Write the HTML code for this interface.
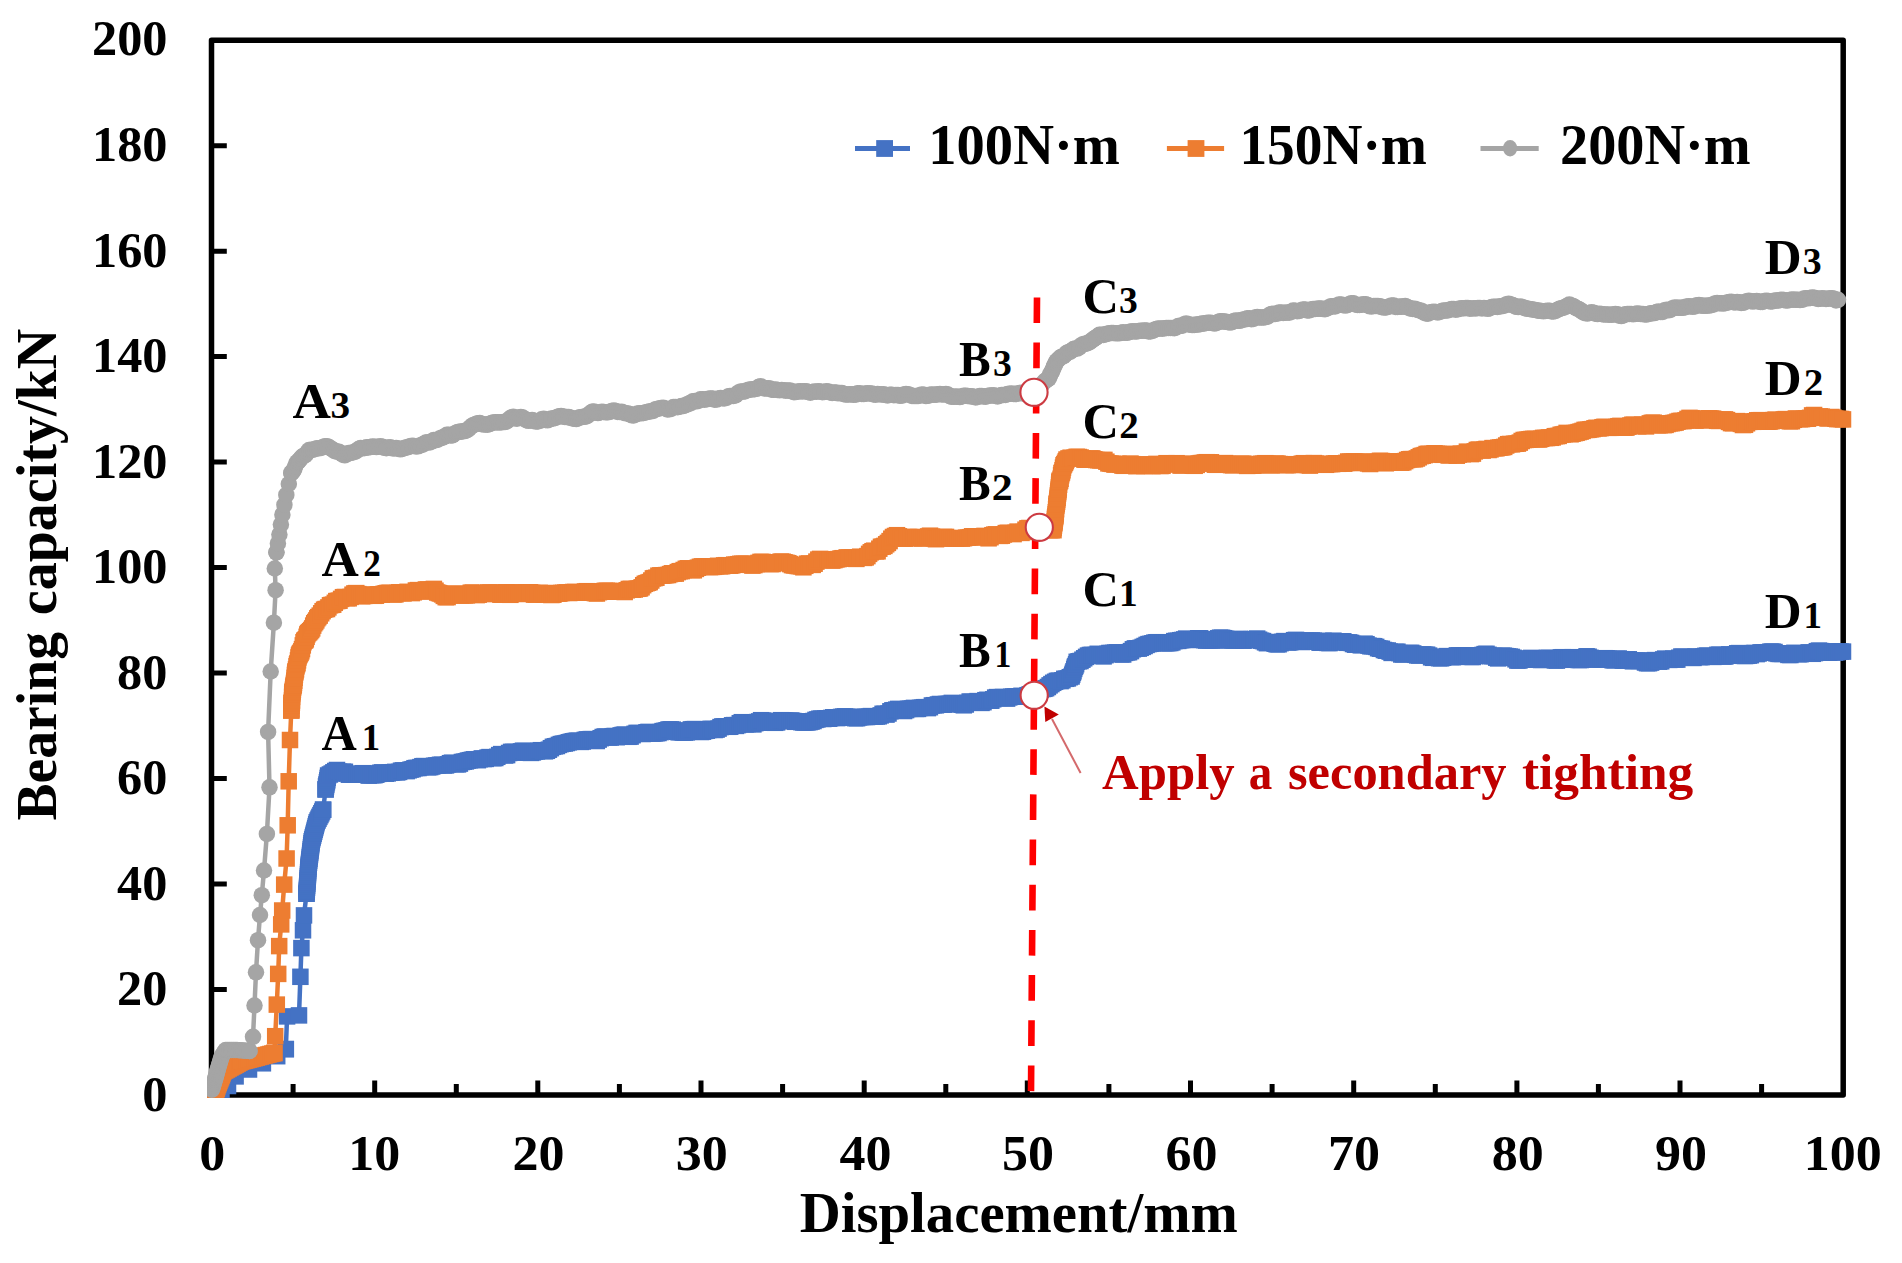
<!DOCTYPE html><html><head><meta charset="utf-8"><title>Bearing capacity vs displacement</title>
<style>html,body{margin:0;padding:0;background:#fff}svg{display:block}text{font-family:"Liberation Serif","Times New Roman",serif;font-weight:bold}</style></head><body>
<svg width="1902" height="1263" viewBox="0 0 1902 1263">
<rect width="1902" height="1263" fill="#fff"/>
<rect x="211.5" y="40.2" width="1631.7" height="1054.8" fill="none" stroke="#000" stroke-width="5.5" stroke-linejoin="round"/>
<path d="M211.5,989.5H226.8M211.5,884.0H226.8M211.5,778.6H226.8M211.5,673.1H226.8M211.5,567.6H226.8M211.5,462.1H226.8M211.5,356.6H226.8M211.5,251.2H226.8M211.5,145.7H226.8M293.1,1095.0V1084M374.7,1095.0V1080.5M456.3,1095.0V1084M537.8,1095.0V1080.5M619.4,1095.0V1084M701.0,1095.0V1080.5M782.6,1095.0V1084M864.2,1095.0V1080.5M945.8,1095.0V1084M1027.3,1095.0V1080.5M1108.9,1095.0V1084M1190.5,1095.0V1080.5M1272.1,1095.0V1084M1353.7,1095.0V1080.5M1435.3,1095.0V1084M1516.9,1095.0V1080.5M1598.4,1095.0V1084M1680.0,1095.0V1080.5M1761.6,1095.0V1084" stroke="#000" stroke-width="5" fill="none"/>
<text x="142.3" y="1110.7" font-size="50" fill="#000" textLength="25.2" lengthAdjust="spacingAndGlyphs">0</text>
<text x="117.1" y="1005.2" font-size="50" fill="#000" textLength="50.3" lengthAdjust="spacingAndGlyphs">20</text>
<text x="117.1" y="899.7" font-size="50" fill="#000" textLength="50.3" lengthAdjust="spacingAndGlyphs">40</text>
<text x="117.1" y="794.3" font-size="50" fill="#000" textLength="50.3" lengthAdjust="spacingAndGlyphs">60</text>
<text x="117.1" y="688.8" font-size="50" fill="#000" textLength="50.3" lengthAdjust="spacingAndGlyphs">80</text>
<text x="92.0" y="583.3" font-size="50" fill="#000" textLength="75.5" lengthAdjust="spacingAndGlyphs">100</text>
<text x="92.0" y="477.8" font-size="50" fill="#000" textLength="75.5" lengthAdjust="spacingAndGlyphs">120</text>
<text x="92.0" y="372.3" font-size="50" fill="#000" textLength="75.5" lengthAdjust="spacingAndGlyphs">140</text>
<text x="92.0" y="266.9" font-size="50" fill="#000" textLength="75.5" lengthAdjust="spacingAndGlyphs">160</text>
<text x="92.0" y="161.4" font-size="50" fill="#000" textLength="75.5" lengthAdjust="spacingAndGlyphs">180</text>
<text x="92.0" y="55.2" font-size="50" fill="#000" textLength="75.5" lengthAdjust="spacingAndGlyphs">200</text>
<text x="199.3" y="1169.7" font-size="50" fill="#000" textLength="26.0" lengthAdjust="spacingAndGlyphs">0</text>
<text x="348.3" y="1169.7" font-size="50" fill="#000" textLength="52.0" lengthAdjust="spacingAndGlyphs">10</text>
<text x="512.5" y="1169.7" font-size="50" fill="#000" textLength="52.0" lengthAdjust="spacingAndGlyphs">20</text>
<text x="675.8" y="1169.7" font-size="50" fill="#000" textLength="52.0" lengthAdjust="spacingAndGlyphs">30</text>
<text x="839.6" y="1169.7" font-size="50" fill="#000" textLength="52.0" lengthAdjust="spacingAndGlyphs">40</text>
<text x="1002.0" y="1169.7" font-size="50" fill="#000" textLength="52.0" lengthAdjust="spacingAndGlyphs">50</text>
<text x="1165.5" y="1169.7" font-size="50" fill="#000" textLength="52.0" lengthAdjust="spacingAndGlyphs">60</text>
<text x="1328.0" y="1169.7" font-size="50" fill="#000" textLength="52.0" lengthAdjust="spacingAndGlyphs">70</text>
<text x="1491.8" y="1169.7" font-size="50" fill="#000" textLength="52.0" lengthAdjust="spacingAndGlyphs">80</text>
<text x="1655.1" y="1169.7" font-size="50" fill="#000" textLength="52.0" lengthAdjust="spacingAndGlyphs">90</text>
<text x="1803.8" y="1169.7" font-size="50" fill="#000" textLength="78.0" lengthAdjust="spacingAndGlyphs">100</text>
<text x="799.7" y="1232.0" font-size="56" fill="#000" textLength="438.1" lengthAdjust="spacingAndGlyphs">Displacement/mm</text>
<text transform="translate(56.3,820.5) rotate(-90)" font-size="56" textLength="188.5" lengthAdjust="spacingAndGlyphs">Bearing</text>
<text transform="translate(56.3,615.2) rotate(-90)" font-size="56" textLength="286.3" lengthAdjust="spacingAndGlyphs">capacity/kN</text>
<defs>
<marker id="mb" markerUnits="userSpaceOnUse" markerWidth="16.5" markerHeight="16.5" refX="8.25" refY="8.25" overflow="visible"><rect width="16.5" height="16.5" fill="#4472C4"/></marker>
<marker id="mo" markerUnits="userSpaceOnUse" markerWidth="16.5" markerHeight="16.5" refX="8.25" refY="8.25" overflow="visible"><rect width="16.5" height="16.5" fill="#ED7D31"/></marker>
<marker id="mg" markerUnits="userSpaceOnUse" markerWidth="16.5" markerHeight="16.5" refX="8.25" refY="8.25" overflow="visible"><circle cx="8.25" cy="8.25" r="8.25" fill="#A5A5A5"/></marker>
<clipPath id="cp"><rect x="207" y="30" width="1646" height="1068"/></clipPath></defs>
<g clip-path="url(#cp)">
<polyline points="221.5,1097.0 228.0,1086.0 235.6,1076.4 249.0,1069.5 262.9,1063.3 277.2,1056.2 285.8,1049.1" fill="none" stroke="#4472C4" stroke-width="4.5" stroke-linejoin="round" marker-start="url(#mb)" marker-mid="url(#mb)" marker-end="url(#mb)"/>
<polyline points="285.8,1049.1 287.1,1016.4 299.0,1015.4 300.4,976.8 301.4,948.1 303.0,930.3 304.0,915.4 306.5,893.7" fill="none" stroke="#4472C4" stroke-width="4.5" stroke-linejoin="round" marker-start="url(#mb)" marker-mid="url(#mb)" marker-end="url(#mb)"/>
<polyline points="306.5,893.7 306.7,891.7 306.8,889.8 307.0,887.8 307.1,885.9 307.3,883.9 307.4,882.0 307.6,880.0 307.7,878.1 307.9,876.2 308.0,874.3 308.1,872.4 308.2,870.5 308.4,868.6 308.5,866.7 308.7,864.7 309.0,862.8 309.2,860.8 309.5,858.9 309.7,856.9 310.0,855.0 310.2,853.0 310.5,851.1 310.7,849.1 311.0,847.2 311.2,845.2 311.5,843.3 311.7,841.3 312.2,839.4 312.7,837.5 313.2,835.6 313.7,833.7 314.2,831.8 314.7,829.9 315.2,828.0 315.7,826.1 316.2,824.2 316.7,822.3 317.6,820.5 318.5,818.7 319.4,816.9 320.4,815.1 321.3,813.3 322.2,811.5 323.1,809.7" fill="none" stroke="#4472C4" stroke-width="4.5" stroke-linejoin="round" marker-start="url(#mb)" marker-mid="url(#mb)" marker-end="url(#mb)"/>
<polyline points="323.1,809.7 325.6,789.4" fill="none" stroke="#4472C4" stroke-width="4.5" stroke-linejoin="round" marker-start="url(#mb)" marker-mid="url(#mb)" marker-end="url(#mb)"/>
<polyline points="325.6,789.4 326.0,786.4 326.4,784.5 326.9,782.3 327.3,780.3 327.7,777.9 328.1,775.5 329.9,774.5 331.7,773.5 333.4,772.3 335.2,771.0 337.0,770.0 339.0,771.7 341.0,772.4 343.0,771.7 344.9,771.8 346.9,773.6 348.9,774.7 350.9,774.3 352.9,774.3 354.9,774.4 356.8,774.3 358.8,774.4 360.8,774.1 362.8,773.2 364.7,773.4 366.7,774.7 368.7,775.6 370.6,775.1 372.5,775.1 374.4,775.2 376.3,774.7 378.2,773.9 380.1,772.8 382.0,772.4 383.9,772.9 385.8,773.7 387.7,773.4 389.6,772.8 391.5,772.7 393.4,772.2 395.3,771.9 397.2,772.4 399.1,771.9 401.0,770.7 402.9,770.4 404.8,770.8 406.7,771.1 408.7,770.3 410.6,769.6 412.6,769.2 414.5,768.2 416.5,767.9 418.5,768.0 420.4,767.1 422.4,766.2 424.3,766.1 426.3,766.8 428.2,767.3 430.2,767.1 432.2,766.5 434.1,765.8 436.1,765.5 438.0,765.4 440.0,764.8 442.0,764.8 444.0,765.5 446.0,765.4 448.0,764.4 450.0,763.2 452.0,762.7 454.0,763.2 456.0,764.2 458.0,764.4 459.9,763.6 461.9,762.0 463.9,761.7 465.9,761.4 467.9,760.6 469.9,760.2 471.9,759.8 473.9,759.3 475.9,759.6 477.9,760.2 479.8,759.2 481.8,758.4 483.7,759.0 485.7,758.9 487.6,757.6 489.5,757.1 491.5,757.8 493.4,758.2 495.3,758.0 497.3,756.8 499.2,755.1 501.2,754.1 503.1,754.4 505.1,755.5 507.1,755.1 509.1,753.0 511.1,751.9 513.0,751.9 515.0,752.1 517.0,752.6 519.0,752.6 521.0,751.4 523.0,750.7 525.0,751.1 527.0,751.6 529.0,752.3 531.0,752.9 532.9,752.4 534.9,751.6 536.9,751.4 538.9,750.7 540.9,750.2 542.9,750.8 544.9,751.3 546.9,750.8 548.9,749.7 550.9,748.2 552.9,746.8 554.9,746.3 556.9,746.0 558.9,744.9 560.8,744.1 562.8,743.7 564.8,743.5 566.8,743.0 568.8,742.3 570.8,741.8 572.8,741.3 574.8,741.0 576.8,740.7 578.8,740.9 580.8,741.9 582.8,741.5 584.8,739.9 586.8,739.4 588.8,739.5 590.8,739.1 592.8,739.2 594.8,740.6 596.8,741.0 598.7,739.6 600.7,738.2 602.7,737.0 604.7,736.5 606.7,736.8 608.7,737.4 610.7,737.5 612.7,736.2 614.7,736.0 616.7,737.2 618.7,736.6 620.7,735.4 622.7,734.9 624.7,734.6 626.6,735.4 628.6,736.8 630.6,736.6 632.6,735.2 634.6,733.8 636.6,732.9 638.6,733.1 640.6,733.7 642.6,734.0 644.6,733.4 646.5,732.3 648.5,731.9 650.5,733.2 652.5,733.6 654.5,733.4 656.5,733.2 658.5,733.0 660.6,732.1 662.6,731.1 664.6,730.8 666.6,730.3 668.6,729.5 670.7,729.4 672.7,729.6 674.7,730.5 676.7,731.8 678.7,732.3 680.8,732.0 682.8,732.5 684.8,732.6 686.8,732.3 688.8,730.6 690.9,729.4 692.9,729.2 694.9,729.1 696.9,729.5 698.9,730.9 701.0,732.0 703.0,731.7 705.0,730.9 706.9,730.7 708.9,729.9 710.8,728.8 712.8,729.1 714.7,730.0 716.6,729.6 718.6,728.6 720.5,727.1 722.4,726.4 724.4,726.5 726.3,726.5 728.3,726.8 730.2,726.7 732.1,725.3 734.1,725.1 736.0,725.9 737.9,725.1 739.8,723.2 741.8,722.2 743.7,722.9 745.6,724.4 747.6,724.1 749.5,723.1 751.4,723.8 753.4,724.4 755.3,723.2 757.2,722.1 759.1,721.4 761.1,720.2 763.0,720.5 765.0,722.2 767.0,722.5 769.1,722.4 771.1,722.5 773.1,722.4 775.1,722.8 777.1,722.4 779.2,720.9 781.2,720.2 783.2,720.3 785.2,720.7 787.2,721.0 789.3,720.9 791.3,720.5 793.3,721.0 795.3,721.8 797.3,721.6 799.4,721.3 801.4,722.2 803.4,722.5 805.4,722.4 807.4,722.4 809.5,722.1 811.5,721.6 813.5,721.0 815.5,719.9 817.4,719.4 819.4,718.7 821.4,718.6 823.3,719.0 825.3,718.5 827.3,718.3 829.2,718.7 831.2,717.9 833.2,717.3 835.2,717.5 837.2,718.1 839.2,717.7 841.1,716.9 843.1,716.6 845.1,716.4 847.1,716.7 849.1,717.5 851.1,717.5 853.1,717.5 855.1,718.2 857.1,718.2 859.1,717.4 861.0,717.0 863.0,716.9 865.0,716.9 867.0,717.0 869.0,716.7 870.9,716.1 872.9,716.3 874.8,716.6 876.8,716.5 878.7,716.3 880.7,715.4 882.6,713.8 884.6,713.8 886.5,714.6 888.5,713.5 890.4,711.3 892.4,710.3 894.3,710.2 896.3,709.6 898.2,708.9 900.2,709.2 902.1,710.2 904.1,711.0 906.1,710.1 908.0,708.9 910.0,708.8 912.0,708.5 914.0,707.9 916.0,708.9 918.0,708.9 920.0,707.9 922.0,707.7 924.0,707.2 925.9,707.2 927.9,708.1 929.9,707.2 931.9,705.5 933.9,705.2 935.9,705.3 937.9,704.5 939.9,704.0 941.9,704.5 943.9,704.6 945.9,704.0 947.8,704.0 949.8,703.8 951.8,702.9 953.8,703.4 955.8,704.2 957.8,703.6 959.8,703.5 961.8,704.7 963.8,705.3 965.8,704.5 967.7,702.7 969.7,701.5 971.7,702.0 973.7,702.7 975.7,702.1 977.6,701.1 979.6,701.9 981.5,702.9 983.5,702.2 985.4,700.2 987.4,699.8 989.3,700.7 991.3,700.7 993.2,699.3 995.2,697.6 997.1,697.1 999.1,697.9 1001.0,697.2 1003.0,697.0 1005.1,698.1 1007.1,698.6 1009.2,697.4 1011.2,696.8 1013.3,696.5 1015.4,696.5 1017.4,696.7 1019.4,696.5 1021.5,695.8 1023.5,696.5 1025.6,696.6 1027.6,695.2 1029.7,694.3 1031.8,694.6 1033.8,694.1 1035.6,692.4 1037.3,691.4 1039.1,690.4 1040.8,689.6 1042.6,689.0 1044.4,688.8 1046.1,688.2 1047.9,687.0 1049.6,685.4 1051.4,684.1 1053.2,682.8 1055.1,681.8 1056.9,680.9 1058.7,680.7 1060.6,681.1 1062.4,680.3 1064.3,678.8 1066.1,678.8 1067.9,678.4 1069.8,677.2 1071.6,676.5 1072.2,674.7 1072.9,672.8 1073.5,671.3 1074.2,668.9 1074.8,666.9 1075.4,666.0 1076.1,664.2 1076.7,661.8 1078.6,661.3 1080.5,661.0 1082.4,659.7 1084.2,658.3 1086.1,656.9 1088.0,655.6 1089.9,655.0 1091.8,654.9 1093.8,655.6 1095.7,655.0 1097.7,653.8 1099.6,654.3 1101.6,655.8 1103.6,656.4 1105.5,655.2 1107.5,653.8 1109.4,653.0 1111.4,653.1 1113.4,652.9 1115.3,652.6 1117.3,652.4 1119.3,653.1 1121.2,654.4 1123.2,654.5 1125.1,652.9 1127.1,652.4 1129.0,652.2 1131.0,651.1 1132.9,649.3 1134.9,648.4 1136.8,648.4 1138.8,648.6 1140.7,647.8 1142.7,646.9 1144.6,646.0 1146.6,644.9 1148.5,644.1 1150.5,643.8 1152.4,643.3 1154.4,642.6 1156.4,642.3 1158.4,642.2 1160.4,642.6 1162.3,642.9 1164.3,643.2 1166.3,643.2 1168.3,643.1 1170.3,643.0 1172.3,642.4 1174.3,641.1 1176.3,640.8 1178.3,640.9 1180.3,640.2 1182.2,640.0 1184.2,639.4 1186.2,638.6 1188.2,639.5 1190.2,640.0 1192.2,639.6 1194.2,639.7 1196.2,639.2 1198.2,638.3 1200.2,638.3 1202.2,639.3 1204.2,640.1 1206.2,640.6 1208.2,640.3 1210.1,640.3 1212.1,640.5 1214.1,640.5 1216.1,639.6 1218.1,638.3 1220.1,637.7 1222.1,637.8 1224.1,638.2 1226.1,638.9 1228.1,640.1 1230.0,640.5 1232.0,640.3 1233.9,640.4 1235.9,640.3 1237.8,639.2 1239.7,638.9 1241.7,640.1 1243.6,640.7 1245.5,640.1 1247.5,640.0 1249.4,639.5 1251.4,639.2 1253.3,639.4 1255.2,639.1 1257.2,638.6 1259.1,639.7 1261.1,640.7 1263.0,641.1 1265.0,642.3 1266.9,643.2 1268.9,642.5 1270.8,642.0 1272.8,642.7 1274.7,643.7 1276.7,644.3 1278.6,644.3 1280.5,643.2 1282.5,641.8 1284.4,641.1 1286.4,642.0 1288.3,642.5 1290.2,642.2 1292.2,641.3 1294.1,640.2 1296.0,639.9 1298.0,640.6 1299.9,641.7 1301.9,642.0 1303.8,641.3 1305.8,640.7 1307.7,640.7 1309.7,641.0 1311.7,640.5 1313.7,640.7 1315.6,641.3 1317.6,641.7 1319.6,642.7 1321.6,642.5 1323.5,640.8 1325.5,641.2 1327.5,642.9 1329.5,643.1 1331.4,641.9 1333.4,640.7 1335.4,641.4 1337.4,642.2 1339.3,641.9 1341.3,641.3 1343.3,641.3 1345.3,642.3 1347.2,642.8 1349.2,642.4 1351.1,642.9 1353.0,644.0 1355.0,644.7 1356.9,644.5 1358.8,644.4 1360.8,645.3 1362.7,644.9 1364.6,643.7 1366.5,644.2 1368.5,645.6 1370.4,646.3 1372.3,646.1 1374.2,646.2 1376.2,646.9 1378.1,648.2 1380.0,648.7 1381.9,648.8 1383.9,650.0 1385.8,650.7 1387.8,650.5 1389.7,651.6 1391.6,652.9 1393.6,652.6 1395.5,651.9 1397.4,651.7 1399.4,653.1 1401.3,654.5 1403.3,654.4 1405.2,653.8 1407.2,653.6 1409.2,653.1 1411.2,652.8 1413.2,653.5 1415.2,654.8 1417.2,655.4 1419.2,655.5 1421.2,654.9 1423.2,654.4 1425.1,654.8 1427.1,654.7 1429.1,655.6 1431.1,657.3 1433.1,657.8 1435.1,657.6 1437.1,657.6 1439.1,658.2 1441.1,658.3 1443.1,657.7 1445.1,656.6 1447.0,656.1 1449.0,656.4 1451.0,657.0 1453.0,657.2 1454.9,656.8 1456.9,655.4 1458.9,655.4 1460.9,656.1 1462.8,655.8 1464.8,655.3 1466.8,655.3 1468.8,655.6 1470.7,656.9 1472.7,657.0 1474.7,656.1 1476.7,655.5 1478.6,655.5 1480.6,655.4 1482.6,654.9 1484.6,654.1 1486.5,653.8 1488.5,654.8 1490.4,656.2 1492.4,656.1 1494.3,656.0 1496.2,657.7 1498.1,658.4 1500.1,657.0 1502.0,655.8 1503.9,655.7 1505.9,656.1 1507.8,656.4 1509.7,656.6 1511.7,656.9 1513.6,657.8 1515.5,659.3 1517.4,660.6 1519.4,660.5 1521.3,659.7 1523.3,659.4 1525.3,659.4 1527.2,659.1 1529.2,658.4 1531.2,657.9 1533.2,658.9 1535.1,659.7 1537.1,659.0 1539.1,658.9 1541.1,660.0 1543.1,659.8 1545.0,658.6 1547.0,657.8 1549.0,658.0 1551.0,658.3 1553.0,659.3 1554.9,660.4 1556.9,660.6 1558.9,659.5 1560.9,657.4 1562.8,657.2 1564.8,659.0 1566.8,659.8 1568.8,659.1 1570.8,658.0 1572.7,657.2 1574.7,658.0 1576.7,659.7 1578.7,660.0 1580.7,660.0 1582.6,659.5 1584.6,657.6 1586.6,656.3 1588.6,656.7 1590.5,657.8 1592.5,659.0 1594.5,659.5 1596.5,659.4 1598.5,659.3 1600.6,659.2 1602.6,658.9 1604.6,658.2 1606.6,658.3 1608.6,658.8 1610.7,659.6 1612.7,660.3 1614.7,660.3 1616.7,659.0 1618.7,658.5 1620.8,659.2 1622.8,660.6 1624.8,660.6 1626.8,659.4 1628.8,659.3 1630.9,660.6 1632.9,661.3 1634.9,660.8 1636.9,660.8 1638.9,660.9 1641.0,660.5 1643.0,660.8 1645.0,662.5 1647.0,663.2 1649.0,663.2 1651.1,662.6 1653.1,661.4 1655.1,660.1 1657.1,660.5 1659.1,661.7 1661.2,661.3 1663.2,659.4 1665.2,658.6 1667.2,659.4 1669.2,659.9 1671.3,659.1 1673.3,658.6 1675.3,659.6 1677.3,659.6 1679.3,657.7 1681.4,656.5 1683.4,656.9 1685.4,657.6 1687.4,657.5 1689.4,657.3 1691.5,657.8 1693.5,657.9 1695.5,656.6 1697.5,656.6 1699.5,657.1 1701.5,657.1 1703.5,656.6 1705.4,655.8 1707.4,655.6 1709.4,656.2 1711.4,656.6 1713.4,656.9 1715.4,656.2 1717.4,654.8 1719.4,654.7 1721.4,655.5 1723.4,656.6 1725.3,656.5 1727.3,655.2 1729.3,654.4 1731.3,655.3 1733.3,655.7 1735.2,654.4 1737.2,653.3 1739.1,653.1 1741.1,654.3 1743.0,655.8 1745.0,656.0 1746.9,655.8 1748.9,655.6 1750.8,655.2 1752.8,653.2 1754.7,652.9 1756.7,654.1 1758.6,653.5 1760.6,652.4 1762.6,652.6 1764.6,652.8 1766.6,652.5 1768.5,652.2 1770.5,651.6 1772.5,651.6 1774.5,652.0 1776.5,653.4 1778.5,653.9 1780.5,653.9 1782.5,653.9 1784.5,653.4 1786.5,653.5 1788.4,654.9 1790.4,655.0 1792.4,653.6 1794.4,652.8 1796.4,653.3 1798.5,654.2 1800.5,654.2 1802.6,653.3 1804.6,653.3 1806.7,653.5 1808.7,652.4 1810.8,652.6 1812.8,653.8 1814.9,653.1 1816.9,651.2 1819.0,650.6 1821.0,651.1 1823.0,652.2 1825.1,652.2 1827.2,652.6 1829.2,652.7 1831.2,651.4 1833.1,651.4 1835.1,652.6 1837.1,652.2 1839.1,651.5 1841.0,651.6 1843.0,651.6" fill="none" stroke="#4472C4" stroke-width="4.5" stroke-linejoin="round" marker-start="url(#mb)" marker-mid="url(#mb)" marker-end="url(#mb)"/>
<polyline points="214.0,1097.0 214.7,1095.0 215.3,1093.0 216.0,1091.0 216.7,1089.0 217.3,1087.0 218.0,1085.0 218.8,1083.1 219.5,1081.1 220.3,1079.2 221.1,1077.3 221.9,1075.4 222.6,1073.4 223.4,1071.5 225.2,1070.5 227.0,1069.5 228.7,1068.5 230.5,1067.5 232.3,1066.5 234.1,1065.6 235.9,1064.6 237.6,1063.6 239.4,1062.6 241.2,1061.6 243.1,1061.1 245.1,1060.6 247.0,1060.1 249.0,1059.6 250.9,1059.1 252.9,1058.6 254.8,1058.1 256.8,1057.6 258.7,1057.0 260.7,1056.5 262.6,1056.0 264.6,1055.5 266.5,1055.0 268.5,1054.5 270.4,1054.0 272.4,1053.5 274.3,1053.0" fill="none" stroke="#ED7D31" stroke-width="4.5" stroke-linejoin="round" marker-start="url(#mo)" marker-mid="url(#mo)" marker-end="url(#mo)"/>
<polyline points="274.3,1053.0 275.2,1036.2 276.8,1004.6 278.2,973.9 279.2,946.1 281.2,924.4 282.2,910.5 284.2,884.6 286.6,858.5 287.7,825.3 288.7,781.3 290.0,740.0 291.3,710.5" fill="none" stroke="#ED7D31" stroke-width="4.5" stroke-linejoin="round" marker-start="url(#mo)" marker-mid="url(#mo)" marker-end="url(#mo)"/>
<polyline points="291.3,710.5 291.4,709.2 291.5,705.6 291.6,703.2 291.7,702.9 291.9,702.6 292.0,700.5 292.1,696.9 292.2,694.0 292.3,692.4 292.6,691.5 292.9,689.7 293.2,687.4 293.5,685.9 293.8,684.8 294.0,682.9 294.3,680.7 294.6,677.8 294.9,674.9 295.2,672.5 295.5,671.3 296.0,669.4 296.5,666.3 297.0,664.4 297.5,663.2 298.0,660.4 298.5,657.4 299.0,655.5 299.5,654.5 300.0,653.5 300.5,652.8 301.3,651.3 302.0,649.1 302.8,645.4 303.5,642.2 304.3,640.7 305.1,640.3 305.8,639.3 306.6,636.8 307.3,634.4 308.1,633.1 309.1,632.3 310.1,631.2 311.2,630.0 312.2,628.4 313.2,625.6 314.2,623.3 315.2,622.0 316.3,620.4 317.3,618.3 318.3,617.1 319.7,615.6 321.2,613.3 322.6,611.2 324.1,609.7 325.5,609.1 327.0,609.0 328.4,607.4 330.0,605.3 331.6,604.9 333.2,604.7 334.8,602.8 336.3,601.1 337.9,600.9 339.5,600.7 341.1,598.9 343.0,597.2 344.9,597.0 346.8,598.1 348.7,598.3 350.6,596.9 352.5,594.7 354.4,593.4 356.3,593.1 358.3,594.1 360.2,595.7 362.2,596.3 364.2,595.9 366.1,595.6 368.1,595.5 370.1,594.8 372.0,594.5 374.0,595.8 375.9,595.7 377.9,594.5 379.8,594.5 381.8,594.7 383.7,593.8 385.7,593.3 387.6,592.9 389.6,592.8 391.5,593.5 393.5,594.5 395.4,594.4 397.4,593.0 399.3,592.3 401.4,593.0 403.5,593.4 405.5,592.6 407.6,591.8 409.7,592.3 411.8,593.1 413.8,592.3 415.9,590.5 418.0,590.1 420.0,590.9 422.0,591.6 424.0,591.0 425.9,589.5 427.9,589.5 429.9,590.3 431.9,589.9 433.9,588.9 435.5,590.7 437.2,592.5 438.9,593.1 440.5,593.5 442.1,594.4 443.8,595.9 445.7,597.2 447.6,597.1 449.5,595.3 451.3,594.5 453.2,594.8 455.1,593.7 457.1,593.7 459.0,595.0 461.0,595.5 463.0,595.2 464.9,595.3 466.9,595.3 468.9,594.4 470.8,592.7 472.8,592.6 474.8,593.8 476.7,595.1 478.7,594.7 480.7,593.7 482.6,593.4 484.6,593.7 486.6,593.1 488.5,592.4 490.5,592.6 492.5,593.9 494.5,594.0 496.5,593.0 498.5,593.2 500.4,594.7 502.4,594.4 504.4,592.5 506.4,592.3 508.4,594.3 510.4,594.8 512.4,592.9 514.4,592.3 516.4,593.1 518.4,593.6 520.3,593.7 522.3,594.0 524.3,593.1 526.3,592.5 528.3,592.3 530.2,592.3 532.1,592.9 534.0,594.6 535.9,594.6 537.8,593.2 539.7,592.9 541.6,593.9 543.5,594.6 545.5,593.9 547.5,593.0 549.4,593.5 551.4,595.0 553.4,594.7 555.4,593.3 557.4,593.5 559.3,593.6 561.3,593.0 563.3,592.8 565.3,592.6 567.2,592.5 569.2,593.0 571.2,592.5 573.2,592.0 575.2,592.0 577.1,592.4 579.1,592.6 581.1,592.6 583.1,592.4 585.0,591.5 587.0,591.2 589.0,592.0 591.0,592.2 593.0,592.1 594.9,593.1 596.9,593.5 598.9,592.2 600.9,591.5 602.9,591.3 604.8,590.8 606.8,590.8 608.8,591.1 610.8,591.1 612.7,591.7 614.7,591.7 616.7,591.4 618.7,591.1 620.7,591.1 622.7,591.7 624.7,592.0 626.8,590.3 628.8,589.0 630.8,588.9 632.8,589.7 634.8,589.5 636.8,588.8 638.4,588.7 640.0,588.4 641.6,587.3 643.2,585.2 644.8,583.8 646.5,583.2 648.1,582.7 649.7,582.1 651.3,580.5 652.9,578.4 654.5,578.1 656.4,577.7 658.4,575.7 660.3,575.4 662.3,575.6 664.2,575.3 666.1,575.1 668.1,575.0 670.0,574.1 671.9,573.3 673.9,573.5 675.8,573.6 677.8,572.1 679.7,571.2 681.7,571.1 683.7,570.0 685.8,568.8 687.8,568.3 689.8,568.9 691.8,570.0 693.8,570.3 695.9,568.9 697.9,567.7 699.9,566.8 701.9,566.4 703.9,566.5 706.0,566.8 708.0,566.8 710.0,567.1 712.0,566.9 714.0,566.8 716.1,566.3 718.1,565.8 720.1,566.3 722.1,566.2 724.1,565.4 726.2,565.2 728.2,565.3 730.2,565.7 732.2,565.3 734.2,564.6 736.3,564.8 738.3,564.2 740.3,563.8 742.3,563.8 744.3,563.9 746.4,564.0 748.4,564.2 750.4,564.8 752.4,565.6 754.4,565.1 756.5,564.2 758.5,562.9 760.5,561.9 762.5,561.9 764.5,562.3 766.6,563.4 768.6,563.6 770.6,564.1 772.6,564.0 774.6,562.7 776.7,562.4 778.7,562.7 780.7,561.6 782.6,561.7 784.5,562.3 786.4,562.8 788.3,563.2 790.2,564.1 792.0,565.1 793.9,565.4 795.8,565.4 797.7,566.0 799.6,566.1 801.5,566.4 803.4,567.3 805.3,565.8 807.1,563.7 809.0,563.5 810.8,564.4 812.7,564.9 814.6,563.7 816.4,561.6 818.3,559.6 820.1,558.9 822.0,559.3 824.1,559.6 826.1,559.3 828.2,559.4 830.2,560.0 832.3,560.6 834.4,560.1 836.4,559.4 838.5,559.1 840.6,558.5 842.6,558.2 844.7,558.3 846.7,557.4 848.8,557.7 850.7,558.0 852.6,557.7 854.5,558.4 856.4,558.9 858.3,557.3 860.2,556.7 862.1,557.5 864.0,557.9 865.7,557.4 867.4,556.1 869.1,553.9 870.8,552.3 872.5,551.2 874.2,550.7 875.9,551.4 877.6,551.3 879.3,548.7 881.0,546.8 882.7,546.6 884.4,545.9 886.2,544.3 887.9,542.9 889.6,541.1 891.3,538.7 893.0,537.0 895.0,536.0 897.0,535.2 898.9,536.3 900.8,537.8 902.8,538.5 904.7,538.7 906.6,537.9 908.5,537.0 910.4,537.0 912.3,537.7 914.2,538.1 916.2,537.6 918.1,537.1 920.0,538.2 922.0,538.5 924.0,537.9 926.0,537.3 928.0,536.4 930.0,535.7 932.0,536.7 934.0,538.3 936.0,539.2 938.0,538.4 940.0,537.8 942.0,537.8 944.0,537.0 946.0,536.9 948.0,538.1 950.0,538.4 952.0,538.1 954.0,538.6 956.0,538.6 958.0,538.2 960.0,538.2 962.0,538.6 964.0,538.2 966.0,537.7 968.0,537.6 970.0,537.2 972.1,536.3 974.1,536.4 976.2,536.6 978.3,537.1 980.3,537.5 982.4,536.6 984.5,535.9 986.5,536.8 988.6,538.3 990.5,537.2 992.4,535.2 994.3,534.6 996.2,534.4 998.1,535.5 1000.0,535.9 1001.9,535.7 1003.9,534.5 1005.8,533.1 1007.8,532.8 1009.7,533.2 1011.7,533.7 1013.6,534.1 1015.6,532.8 1017.6,531.6 1019.5,532.3 1021.5,532.9 1023.5,532.0 1025.5,529.7 1027.4,528.3 1029.4,528.0 1031.4,528.4 1033.4,530.0 1035.3,530.6 1037.3,530.1 1039.3,529.7 1041.3,529.4 1043.4,528.3 1045.4,527.8 1047.4,528.8 1049.4,530.1 1051.5,530.2 1053.5,530.2 1053.7,528.0 1054.0,525.5 1054.2,523.5 1054.4,522.6 1054.7,521.2 1054.9,518.9 1055.1,517.2 1055.4,516.1 1055.6,514.3 1055.8,512.2 1056.1,509.2 1056.3,505.9 1056.6,504.2 1056.8,503.3 1057.1,501.7 1057.3,499.6 1057.6,497.8 1057.8,495.5 1058.1,493.4 1058.3,491.5 1058.6,489.6 1058.8,487.5 1059.1,484.7 1059.3,482.0 1059.6,480.8 1060.1,480.9 1060.6,478.8 1061.1,475.3 1061.5,473.2 1062.0,472.4 1062.5,470.3 1063.0,467.6 1063.5,465.3 1064.2,464.3 1065.0,462.8 1065.8,461.2 1066.5,459.5 1068.5,458.4 1070.6,457.7 1072.6,458.3 1074.7,457.6 1076.7,456.8 1078.7,457.0 1080.6,457.5 1082.6,458.6 1084.5,459.7 1086.5,459.7 1088.4,459.2 1090.4,458.5 1092.3,458.4 1094.3,459.3 1096.3,460.0 1098.3,460.2 1100.4,460.4 1102.4,460.1 1104.4,459.9 1106.4,461.7 1108.4,463.4 1110.5,463.6 1112.5,463.9 1114.5,464.6 1116.5,464.1 1118.5,463.9 1120.5,464.8 1122.5,465.6 1124.5,465.8 1126.5,465.1 1128.5,464.2 1130.5,463.6 1132.5,464.2 1134.4,465.5 1136.4,466.2 1138.4,465.4 1140.4,464.5 1142.4,464.9 1144.4,466.0 1146.4,465.4 1148.4,464.4 1150.4,465.3 1152.4,466.1 1154.4,464.9 1156.4,463.9 1158.4,464.6 1160.5,466.0 1162.5,465.8 1164.5,464.2 1166.5,463.2 1168.5,463.5 1170.5,464.1 1172.6,464.1 1174.6,463.6 1176.6,463.2 1178.6,464.2 1180.6,465.6 1182.6,465.1 1184.7,464.3 1186.7,464.3 1188.7,463.7 1190.7,464.0 1192.7,465.6 1194.7,465.8 1196.8,464.9 1198.8,463.6 1200.8,463.1 1202.8,463.0 1204.8,462.5 1206.8,462.2 1208.9,462.4 1210.9,462.3 1212.9,463.3 1214.9,464.7 1216.9,464.8 1219.0,464.3 1221.0,464.2 1223.0,463.5 1225.0,463.1 1227.0,463.6 1229.1,464.2 1231.1,465.1 1233.1,465.3 1235.1,464.5 1237.1,464.5 1239.2,464.7 1241.2,463.8 1243.2,463.6 1245.2,464.9 1247.2,465.9 1249.3,465.7 1251.3,465.6 1253.3,465.7 1255.3,465.4 1257.3,464.8 1259.4,464.0 1261.4,463.8 1263.4,463.7 1265.4,463.2 1267.4,463.8 1269.5,465.1 1271.5,465.4 1273.5,464.5 1275.5,463.6 1277.5,463.6 1279.6,464.1 1281.6,464.3 1283.6,464.4 1285.6,465.1 1287.6,465.1 1289.7,464.2 1291.7,464.5 1293.7,465.0 1295.7,464.3 1297.7,464.7 1299.8,464.8 1301.8,463.7 1303.8,463.2 1305.8,463.7 1307.8,465.0 1309.9,465.6 1311.9,464.1 1313.9,463.1 1315.9,463.6 1317.9,464.4 1320.0,464.5 1322.0,464.3 1324.0,464.6 1326.0,464.8 1328.0,464.0 1330.1,464.0 1332.1,464.1 1334.1,463.6 1336.1,463.3 1338.1,463.8 1340.2,463.3 1342.2,463.4 1344.2,463.7 1346.2,462.9 1348.2,461.5 1350.3,461.7 1352.3,461.8 1354.3,461.5 1356.3,461.9 1358.3,462.8 1360.2,463.0 1362.2,462.3 1364.2,461.5 1366.2,461.9 1368.1,463.4 1370.1,464.0 1372.1,462.7 1374.1,462.1 1376.0,462.5 1378.0,462.0 1380.0,460.8 1381.9,461.1 1383.9,462.6 1385.8,463.3 1387.8,462.6 1389.7,461.9 1391.6,461.4 1393.6,461.6 1395.5,462.1 1397.4,461.9 1399.4,461.9 1401.3,462.7 1403.3,462.3 1405.2,461.1 1407.1,460.0 1409.1,459.3 1411.0,459.1 1413.0,459.2 1414.9,459.2 1416.9,458.5 1418.8,457.3 1420.8,456.1 1422.7,455.7 1424.7,455.1 1426.6,454.0 1428.6,453.8 1430.5,454.2 1432.5,454.0 1434.5,453.3 1436.6,453.6 1438.6,454.0 1440.6,454.4 1442.6,454.8 1444.6,454.7 1446.7,454.7 1448.7,455.5 1450.7,455.0 1452.7,453.8 1454.7,454.7 1456.8,455.7 1458.8,454.6 1460.8,453.7 1462.8,454.2 1464.8,453.7 1466.9,451.7 1468.9,452.1 1470.9,454.1 1472.9,453.6 1474.8,451.4 1476.8,450.0 1478.7,449.6 1480.7,450.1 1482.7,450.6 1484.6,449.5 1486.6,448.9 1488.6,450.0 1490.5,449.4 1492.5,448.1 1494.4,448.2 1496.4,448.3 1498.4,447.7 1500.3,447.5 1502.3,447.3 1504.2,446.9 1506.2,445.5 1508.1,444.2 1510.1,444.0 1512.0,444.3 1514.0,443.8 1515.9,443.7 1517.9,443.6 1519.8,442.6 1521.7,441.0 1523.7,440.0 1525.6,439.9 1527.6,439.7 1529.5,439.3 1531.5,439.0 1533.4,438.9 1535.3,439.0 1537.3,439.2 1539.2,439.5 1541.2,438.8 1543.1,437.9 1545.0,438.0 1547.0,438.0 1548.9,437.5 1550.9,437.8 1552.8,437.4 1554.8,436.2 1556.7,436.1 1558.7,435.9 1560.7,434.8 1562.7,434.5 1564.7,434.1 1566.6,432.9 1568.6,433.3 1570.6,434.3 1572.6,433.7 1574.6,433.1 1576.6,432.8 1578.6,432.1 1580.6,431.6 1582.6,430.9 1584.6,429.9 1586.5,429.9 1588.5,429.8 1590.5,429.3 1592.5,429.1 1594.5,428.3 1596.5,427.8 1598.5,428.4 1600.5,428.1 1602.5,427.2 1604.5,426.8 1606.5,427.2 1608.5,427.8 1610.5,427.8 1612.5,427.4 1614.4,427.3 1616.4,427.0 1618.4,426.2 1620.4,425.9 1622.4,426.7 1624.4,427.7 1626.4,427.6 1628.4,426.7 1630.4,425.5 1632.4,424.7 1634.3,424.9 1636.3,425.6 1638.2,426.3 1640.2,425.6 1642.1,424.7 1644.0,425.6 1646.0,426.4 1647.9,424.9 1649.8,423.4 1651.8,422.8 1653.7,422.7 1655.7,423.6 1657.6,425.2 1659.6,425.2 1661.6,424.8 1663.6,425.1 1665.6,424.9 1667.6,424.0 1669.6,423.3 1671.6,423.2 1673.6,422.9 1675.6,422.6 1677.5,421.7 1679.5,421.0 1681.5,420.9 1683.5,421.1 1685.5,420.4 1687.5,418.9 1689.5,417.9 1691.5,418.2 1693.5,419.8 1695.5,420.6 1697.5,419.8 1699.4,419.4 1701.4,420.1 1703.3,420.4 1705.3,419.4 1707.2,418.4 1709.2,418.3 1711.1,418.6 1713.1,418.7 1715.1,419.4 1717.1,420.8 1719.1,420.9 1721.0,420.1 1723.0,419.6 1725.0,419.4 1727.0,420.1 1729.0,421.9 1731.0,423.1 1733.0,423.2 1734.9,422.1 1736.9,421.1 1738.9,422.1 1740.9,423.9 1742.9,425.0 1745.0,424.8 1747.0,423.3 1749.1,421.9 1751.1,421.6 1753.2,421.8 1755.2,421.3 1757.2,420.3 1759.3,420.2 1761.3,420.2 1763.4,421.1 1765.4,421.7 1767.5,421.7 1769.5,421.6 1771.5,421.2 1773.6,420.1 1775.6,419.6 1777.7,420.5 1779.7,420.8 1781.8,420.5 1783.8,419.5 1785.8,419.1 1787.8,420.5 1789.9,421.3 1791.9,421.2 1793.9,419.8 1795.9,418.5 1797.9,418.9 1800.0,419.2 1802.0,419.1 1804.0,418.8 1806.0,418.5 1808.0,418.7 1810.1,417.8 1812.1,415.4 1814.1,415.0 1816.0,417.1 1818.0,417.6 1819.9,416.4 1821.8,416.7 1823.7,417.5 1825.7,417.8 1827.6,418.5 1829.5,418.0 1831.4,417.0 1833.4,417.7 1835.3,418.6 1837.2,419.1 1839.1,418.9 1841.1,419.0 1843.0,419.4" fill="none" stroke="#ED7D31" stroke-width="4.5" stroke-linejoin="round" marker-start="url(#mo)" marker-mid="url(#mo)" marker-end="url(#mo)"/>
<polyline points="211.9,1089.7 212.5,1087.7 213.1,1085.7 213.7,1083.8 214.3,1081.8 214.9,1079.8 215.5,1077.8 216.0,1075.9 216.6,1073.9 217.1,1071.9 217.7,1069.9 218.2,1068.0 218.8,1066.0 219.4,1064.0 220.0,1062.0 220.6,1060.0 221.2,1058.0 221.8,1056.0 222.8,1054.5 223.8,1053.0 224.7,1051.5 225.7,1050.0 227.6,1050.0 229.5,1050.0 231.3,1050.0 233.2,1050.0 235.1,1050.0 237.0,1050.0 239.1,1050.2 241.2,1050.3 243.2,1050.5 245.3,1050.7 247.4,1050.8 249.5,1051.0" fill="none" stroke="#A5A5A5" stroke-width="4.5" stroke-linejoin="round" marker-start="url(#mg)" marker-mid="url(#mg)" marker-end="url(#mg)"/>
<polyline points="249.5,1051.0 253.0,1036.8 254.5,1005.5 256.0,972.3 258.0,940.2 260.0,915.0 261.8,895.2 264.0,870.5 266.9,833.9 269.5,787.3 268.1,731.9 270.7,671.5 273.9,622.7 275.6,590.2 274.8,568.5 276.4,552.3" fill="none" stroke="#A5A5A5" stroke-width="4.5" stroke-linejoin="round" marker-start="url(#mg)" marker-mid="url(#mg)" marker-end="url(#mg)"/>
<polyline points="276.4,552.3 277.9,543.4 279.4,534.5 280.9,524.6 282.4,514.7 284.4,504.8 286.3,494.9 288.8,484.0 291.3,473.1" fill="none" stroke="#A5A5A5" stroke-width="4.5" stroke-linejoin="round" marker-start="url(#mg)" marker-mid="url(#mg)" marker-end="url(#mg)"/>
<polyline points="291.3,473.1 292.3,472.2 293.3,470.9 294.3,468.9 295.2,466.3 296.2,463.7 297.2,462.2 298.2,461.6 299.2,460.4 300.6,458.6 302.0,456.8 303.4,455.9 304.9,455.4 306.3,454.0 307.7,451.9 309.1,450.0 311.1,449.8 313.1,449.7 315.1,448.9 317.0,448.3 319.0,448.2 321.0,448.0 323.0,447.0 325.0,446.3 327.0,446.2 328.9,447.1 330.9,448.4 332.9,449.7 334.9,451.2 336.9,451.5 338.9,451.7 340.8,453.1 342.8,454.7 344.8,455.3 346.8,453.9 348.7,452.9 350.7,452.9 352.7,452.5 354.7,451.8 356.6,450.8 358.6,449.0 360.6,448.0 362.6,448.3 364.6,448.1 366.5,447.3 368.5,447.4 370.5,447.1 372.5,446.5 374.5,446.7 376.4,447.1 378.4,446.7 380.4,446.2 382.4,446.7 384.4,447.8 386.3,448.2 388.3,447.4 390.3,447.3 392.3,448.3 394.2,448.5 396.2,448.0 398.2,448.6 400.2,449.3 402.2,449.0 404.1,448.1 406.1,447.6 408.1,447.1 410.1,446.3 412.1,445.7 414.0,446.0 416.0,446.4 418.0,446.3 420.0,445.5 422.0,444.8 423.9,443.8 425.9,442.5 427.9,442.2 429.9,442.5 431.9,441.3 433.8,440.1 435.8,440.2 437.8,439.7 439.6,438.5 441.5,437.8 443.3,437.3 445.1,436.2 446.9,434.8 448.8,434.7 450.6,435.6 452.4,435.3 454.2,433.9 456.1,432.7 457.9,432.1 459.7,431.8 461.5,431.5 463.4,431.3 465.2,430.8 467.0,430.2 468.8,429.0 470.6,427.0 472.5,425.4 474.3,424.7 476.1,423.9 477.9,423.2 479.8,423.1 481.8,424.1 483.7,424.6 485.7,424.5 487.6,424.7 489.5,424.1 491.5,422.9 493.4,422.6 495.3,422.3 497.3,422.2 499.2,422.6 501.2,422.3 503.1,422.0 504.8,421.9 506.5,421.5 508.2,420.2 509.8,418.6 511.5,417.3 513.2,416.8 515.1,418.3 517.0,418.7 518.9,417.5 520.8,417.0 522.7,417.5 524.5,418.8 526.4,420.2 528.3,420.8 530.2,420.4 532.1,420.0 534.0,420.8 535.9,421.6 537.8,421.5 539.8,420.8 541.7,419.3 543.7,418.8 545.6,419.9 547.5,420.3 549.5,419.3 551.4,418.4 553.3,418.4 555.3,418.0 557.2,417.0 559.2,416.3 561.1,416.0 563.0,416.4 564.9,416.9 566.8,417.1 568.7,417.1 570.6,417.8 572.5,418.4 574.4,418.7 576.3,419.1 578.1,417.9 579.8,417.3 581.6,417.2 583.3,416.8 585.1,416.6 586.9,416.2 588.6,414.9 590.4,413.1 592.1,411.8 593.9,411.6 595.9,412.6 597.9,413.1 599.9,412.4 601.8,411.8 603.8,411.9 605.8,412.3 607.8,412.3 609.8,411.8 611.8,411.1 613.8,410.6 615.7,411.0 617.7,411.9 619.7,411.9 621.7,411.7 623.7,412.7 625.7,413.3 627.8,413.4 629.8,414.0 631.8,415.3 633.7,415.4 635.7,414.4 637.6,413.5 639.6,413.2 641.5,413.3 643.4,413.0 645.4,412.5 647.3,411.9 649.2,411.4 651.2,411.3 653.1,410.8 655.1,409.5 657.0,408.9 659.1,408.5 661.1,408.0 663.2,407.8 665.3,408.4 667.3,409.5 669.4,409.3 671.4,408.7 673.5,407.1 675.6,407.0 677.6,407.2 679.7,406.7 681.6,406.0 683.5,406.0 685.4,405.2 687.3,404.3 689.2,403.6 691.1,402.8 693.0,401.2 694.9,400.9 696.8,401.3 698.7,400.6 700.6,399.3 702.5,399.3 704.5,399.7 706.5,399.3 708.5,398.8 710.5,398.4 712.5,398.6 714.6,399.7 716.6,399.6 718.6,398.5 720.6,398.0 722.6,398.2 724.4,398.4 726.3,397.8 728.1,396.5 729.9,395.9 731.8,396.0 733.6,396.0 735.5,395.3 737.3,393.9 739.1,392.2 741.0,391.5 742.8,391.6 744.8,391.4 746.7,390.5 748.7,389.8 750.7,389.4 752.6,389.3 754.6,389.2 756.6,388.8 758.5,387.1 760.5,386.2 762.4,387.4 764.3,388.4 766.2,388.5 768.0,388.2 769.9,388.6 771.8,389.7 773.7,389.8 775.6,389.6 777.6,390.1 779.7,390.2 781.7,389.9 783.8,390.2 785.8,390.7 787.9,390.4 789.9,390.4 791.9,391.3 794.0,392.2 796.0,391.9 798.1,391.4 800.1,391.3 802.2,391.5 804.2,391.2 806.2,391.2 808.3,392.1 810.3,392.7 812.4,392.0 814.4,391.6 816.5,391.7 818.5,391.3 820.4,391.5 822.4,392.2 824.3,392.0 826.3,391.3 828.2,391.4 830.2,392.4 832.1,393.0 834.1,392.4 836.0,392.5 838.0,393.3 839.9,393.1 841.9,393.0 843.8,394.1 845.8,394.6 847.8,394.6 849.8,394.3 851.8,394.2 853.7,394.8 855.7,394.6 857.7,393.3 859.7,393.2 861.7,393.9 863.7,394.1 865.7,393.5 867.7,393.3 869.7,393.4 871.7,393.6 873.6,394.5 875.6,394.7 877.6,394.1 879.6,394.3 881.6,394.5 883.6,394.3 885.7,395.1 887.7,395.5 889.8,394.7 891.8,394.7 893.9,395.2 895.9,395.0 898.0,395.0 900.0,395.8 902.0,395.6 904.0,394.5 906.0,394.0 908.0,394.2 910.0,395.0 912.0,395.9 914.0,396.1 916.0,396.1 918.0,396.1 919.9,395.3 921.9,394.4 923.9,394.8 925.9,396.1 927.9,395.8 929.9,394.7 931.9,394.5 933.9,394.8 935.9,394.7 937.9,394.3 939.9,394.1 941.9,394.4 943.9,394.5 945.9,394.0 947.8,394.6 949.8,396.1 951.8,396.8 953.8,396.8 955.8,396.6 957.8,396.8 959.8,397.1 961.8,396.5 963.8,395.7 965.8,395.7 967.7,396.1 969.7,396.2 971.7,396.2 973.7,396.8 975.7,397.5 977.7,396.9 979.7,396.1 981.7,396.0 983.7,396.6 985.7,396.7 987.7,395.9 989.7,395.5 991.7,395.5 993.7,395.3 995.6,395.9 997.6,396.5 999.6,395.7 1001.6,394.9 1003.6,395.0 1005.6,394.9 1007.6,394.1 1009.6,393.7 1011.6,393.6 1013.6,394.0 1015.6,394.0 1017.6,393.6 1019.7,393.0 1021.7,392.8 1023.7,393.6 1025.7,394.1 1027.7,393.7 1029.8,393.2 1031.8,392.6 1033.8,392.1 1035.3,391.0 1036.8,389.7 1038.3,388.3 1039.8,387.0 1041.3,385.2 1042.9,383.3 1044.4,381.6 1045.9,380.4 1047.4,379.4 1048.9,378.3 1049.7,376.2 1050.4,373.9 1051.2,372.7 1051.9,371.6 1052.7,369.5 1053.5,367.7 1054.2,365.9 1055.0,364.4 1055.7,363.0 1056.5,361.2 1058.2,359.6 1059.9,357.8 1061.5,356.7 1063.2,356.5 1064.9,355.0 1066.6,353.1 1068.2,352.2 1069.9,351.8 1071.6,350.7 1073.5,349.0 1075.4,348.4 1077.3,348.6 1079.2,347.4 1081.1,345.4 1083.0,344.2 1084.9,343.8 1086.8,343.4 1088.4,342.7 1090.0,342.0 1091.5,340.7 1093.1,339.3 1094.7,338.3 1096.2,337.4 1097.8,336.1 1099.4,334.8 1101.4,334.8 1103.4,335.0 1105.3,334.3 1107.3,333.7 1109.3,333.2 1111.3,332.9 1113.2,333.1 1115.2,333.2 1117.2,333.2 1119.2,333.3 1121.2,332.8 1123.1,332.3 1125.1,332.7 1127.1,332.8 1129.0,332.1 1131.0,331.4 1132.9,331.2 1134.9,331.4 1136.8,331.4 1138.8,330.9 1140.7,330.7 1142.7,330.8 1144.6,330.5 1146.6,330.6 1148.5,331.4 1150.5,331.5 1152.4,330.8 1154.4,329.8 1156.4,329.0 1158.4,328.5 1160.4,328.4 1162.3,328.7 1164.3,328.3 1166.3,327.9 1168.3,328.0 1170.3,328.0 1172.3,328.0 1174.3,328.2 1176.3,327.4 1178.3,326.0 1180.3,325.8 1182.2,325.7 1184.2,324.3 1186.2,323.6 1188.2,324.2 1190.2,324.7 1192.2,325.1 1194.2,324.9 1196.2,324.6 1198.2,324.6 1200.2,324.1 1202.2,323.6 1204.2,323.5 1206.2,322.9 1208.2,322.7 1210.1,322.7 1212.1,323.0 1214.1,323.4 1216.1,323.2 1218.1,322.1 1220.1,321.3 1222.1,321.3 1224.1,321.6 1226.1,321.8 1228.1,322.2 1230.0,322.5 1232.0,322.2 1233.9,321.1 1235.9,320.5 1237.8,320.8 1239.7,320.8 1241.7,319.9 1243.6,319.5 1245.5,319.3 1247.5,318.3 1249.4,318.3 1251.4,319.2 1253.3,319.0 1255.3,317.5 1257.3,316.9 1259.3,317.4 1261.3,317.6 1263.3,317.5 1265.3,317.2 1267.3,316.7 1269.3,315.1 1271.3,314.0 1273.2,313.8 1275.2,314.0 1277.2,313.6 1279.2,312.6 1281.2,312.4 1283.2,312.9 1285.2,312.7 1287.2,312.5 1289.2,312.7 1291.2,311.8 1293.2,310.5 1295.2,310.8 1297.2,311.2 1299.2,310.9 1301.1,310.2 1303.1,309.4 1305.1,309.6 1307.1,310.4 1309.1,310.4 1311.1,309.6 1313.1,309.0 1315.1,308.9 1317.1,308.8 1319.1,308.6 1321.0,308.6 1323.0,309.1 1325.0,309.2 1327.0,308.5 1329.0,307.3 1331.0,306.3 1333.0,306.3 1335.1,306.4 1337.1,305.4 1339.1,304.6 1341.1,304.5 1343.1,305.2 1345.2,305.5 1347.2,305.2 1349.2,304.2 1351.3,303.2 1353.3,303.3 1355.4,304.4 1357.4,304.9 1359.5,305.0 1361.5,304.7 1363.6,304.3 1365.6,304.3 1367.7,305.1 1369.7,306.3 1371.8,306.5 1373.8,306.0 1375.9,306.1 1377.9,305.9 1380.0,306.3 1381.9,307.1 1383.9,307.6 1385.8,307.4 1387.8,307.0 1389.7,306.3 1391.6,305.6 1393.6,305.6 1395.5,306.9 1397.4,307.0 1399.4,306.5 1401.3,306.8 1403.3,306.6 1405.2,305.9 1407.1,306.9 1409.0,308.0 1410.9,308.6 1412.8,308.9 1414.7,308.8 1416.6,309.4 1418.4,310.2 1420.3,310.4 1422.2,311.3 1424.1,312.6 1426.0,313.4 1427.9,313.7 1429.9,312.6 1431.9,311.9 1433.9,311.7 1435.8,312.1 1437.8,312.4 1439.8,311.9 1441.8,311.0 1443.8,310.6 1445.8,310.5 1447.8,310.4 1449.7,309.7 1451.7,308.9 1453.7,309.1 1455.7,309.7 1457.7,309.3 1459.7,308.5 1461.8,308.3 1463.8,308.3 1465.8,308.0 1467.8,308.1 1469.8,308.7 1471.9,308.4 1473.9,308.2 1475.9,308.4 1477.9,307.9 1479.9,308.1 1482.0,308.5 1484.0,308.0 1486.0,308.2 1487.9,308.8 1489.8,308.2 1491.7,306.9 1493.6,306.7 1495.5,306.8 1497.3,306.9 1499.2,306.5 1501.1,306.2 1503.0,306.0 1504.9,305.3 1506.8,304.3 1508.7,303.8 1510.6,304.4 1512.5,305.1 1514.4,306.0 1516.3,306.8 1518.2,307.1 1520.1,306.6 1521.9,307.0 1523.8,307.6 1525.7,308.3 1527.6,308.8 1529.5,308.9 1531.4,309.3 1533.4,309.7 1535.4,310.0 1537.5,310.5 1539.5,310.8 1541.5,311.1 1543.5,311.2 1545.5,311.0 1547.6,310.8 1549.6,310.7 1551.6,311.5 1553.6,311.5 1555.5,310.9 1557.5,309.7 1559.5,308.8 1561.4,308.2 1563.4,307.7 1565.4,306.9 1567.3,305.7 1569.3,304.6 1571.1,305.4 1573.0,306.1 1574.8,307.1 1576.6,308.4 1578.5,309.0 1580.3,310.0 1582.2,311.6 1584.0,312.6 1585.8,313.3 1587.7,313.4 1589.5,312.9 1591.5,312.3 1593.5,312.7 1595.5,313.7 1597.5,314.1 1599.4,313.7 1601.4,313.9 1603.4,314.5 1605.4,314.5 1607.4,314.4 1609.4,314.7 1611.4,314.8 1613.4,314.4 1615.4,313.9 1617.4,314.3 1619.3,315.6 1621.3,316.1 1623.3,315.3 1625.3,314.2 1627.3,314.1 1629.2,313.9 1631.2,314.0 1633.1,314.2 1635.1,313.9 1637.0,313.5 1639.0,313.8 1640.9,314.1 1642.9,314.1 1644.8,314.4 1646.8,314.5 1648.7,313.9 1650.7,313.3 1652.6,313.2 1654.6,313.1 1656.6,312.0 1658.6,311.4 1660.7,312.1 1662.7,311.9 1664.7,310.3 1666.7,309.8 1668.7,310.3 1670.7,309.7 1672.7,308.2 1674.7,307.5 1676.8,307.7 1678.8,307.8 1680.8,307.7 1682.8,307.8 1684.8,307.3 1686.8,306.4 1688.9,306.3 1690.9,306.5 1692.9,306.7 1694.9,306.5 1696.9,305.2 1699.0,305.0 1701.0,305.6 1703.0,305.8 1705.0,305.7 1707.0,305.7 1709.1,305.4 1711.1,305.2 1713.1,304.6 1715.1,303.4 1717.1,303.0 1719.2,303.3 1721.2,303.3 1723.2,303.4 1725.2,303.2 1727.2,302.6 1729.3,302.1 1731.3,301.8 1733.3,302.2 1735.2,302.5 1737.2,301.9 1739.1,302.3 1741.1,303.0 1743.0,302.8 1745.0,302.0 1746.9,301.2 1748.9,300.8 1750.8,301.2 1752.8,301.4 1754.7,301.2 1756.7,301.0 1758.6,301.4 1760.5,302.0 1762.5,301.9 1764.4,301.0 1766.4,300.7 1768.3,300.9 1770.2,301.4 1772.2,301.5 1774.1,300.7 1776.0,300.5 1778.0,300.6 1779.9,300.1 1781.9,299.7 1783.8,300.1 1785.8,300.4 1787.8,300.5 1789.9,299.9 1791.9,299.5 1793.9,299.7 1795.9,299.8 1797.9,299.7 1800.0,300.1 1802.0,299.8 1804.0,298.6 1806.0,298.2 1808.0,298.3 1810.1,297.9 1812.1,297.6 1814.1,297.7 1816.1,298.3 1818.1,299.0 1820.1,298.8 1822.1,298.2 1824.1,298.5 1826.0,298.9 1828.0,298.8 1830.0,298.3 1832.0,298.2 1834.0,298.8 1836.0,300.4 1838.0,299.8" fill="none" stroke="#A5A5A5" stroke-width="4.5" stroke-linejoin="round" marker-start="url(#mg)" marker-mid="url(#mg)" marker-end="url(#mg)"/>
</g>
<line x1="1037" y1="297.4" x2="1031" y2="1093" stroke="#FF0000" stroke-width="6.6" stroke-dasharray="25.7 19.48"/>
<circle cx="1034" cy="392.3" r="13.6" fill="#fff" stroke="#CC3B42" stroke-width="2.1"/>
<circle cx="1039.3" cy="527.3" r="13.6" fill="#fff" stroke="#CC3B42" stroke-width="2.1"/>
<circle cx="1034.2" cy="695.3" r="13.6" fill="#fff" stroke="#CC3B42" stroke-width="2.1"/>
<line x1="1080.6" y1="773" x2="1052" y2="719" stroke="#D46A6C" stroke-width="2"/>
<polygon points="1044.4,706.6 1058.8,714.6 1045.3,722" fill="#C00000"/>
<text x="1102.1" y="789.1" font-size="50" fill="#C00000" textLength="132.5" lengthAdjust="spacingAndGlyphs">Apply</text>
<text x="1248.8" y="789.1" font-size="50" fill="#C00000" textLength="23.5" lengthAdjust="spacingAndGlyphs">a</text>
<text x="1288.0" y="789.1" font-size="50" fill="#C00000" textLength="218.5" lengthAdjust="spacingAndGlyphs">secondary</text>
<text x="1522.0" y="789.1" font-size="50" fill="#C00000" textLength="171.2" lengthAdjust="spacingAndGlyphs">tighting</text>
<line x1="855" y1="148.5" x2="910" y2="148.5" stroke="#4472C4" stroke-width="5"/>
<rect x="876.2" y="140.1" width="16.8" height="16.8" fill="#4472C4"/>
<line x1="1166.9" y1="148.5" x2="1224.1" y2="148.5" stroke="#ED7D31" stroke-width="5"/>
<rect x="1187.6" y="140.1" width="16.8" height="16.8" fill="#ED7D31"/>
<line x1="1480.5" y1="148.5" x2="1538.7" y2="148.5" stroke="#A5A5A5" stroke-width="5"/>
<ellipse cx="1510.1" cy="148.2" rx="7.2" ry="8.2" fill="#A5A5A5"/>
<text x="928.3" y="164.0" font-size="56" fill="#000" textLength="191.7" lengthAdjust="spacingAndGlyphs">100N·m</text>
<text x="1239.4" y="164.0" font-size="56" fill="#000" textLength="187.6" lengthAdjust="spacingAndGlyphs">150N·m</text>
<text x="1560.0" y="164.0" font-size="56" fill="#000" textLength="190.7" lengthAdjust="spacingAndGlyphs">200N·m</text>
<text x="321.5" y="749.7" font-size="51.5" fill="#000" textLength="35.3" lengthAdjust="spacingAndGlyphs">A</text>
<text x="361.7" y="749.7" font-size="38" fill="#000" textLength="18.4" lengthAdjust="spacingAndGlyphs">1</text>
<text x="321.5" y="576.0" font-size="51.5" fill="#000" textLength="37.3" lengthAdjust="spacingAndGlyphs">A</text>
<text x="363.2" y="576.0" font-size="38" fill="#000" textLength="17.6" lengthAdjust="spacingAndGlyphs">2</text>
<text x="292.5" y="417.5" font-size="51.5" fill="#000" textLength="38.5" lengthAdjust="spacingAndGlyphs">A</text>
<text x="330.5" y="417.5" font-size="38" fill="#000" textLength="19.6" lengthAdjust="spacingAndGlyphs">3</text>
<text x="959.1" y="667.4" font-size="51.5" fill="#000" textLength="31.7" lengthAdjust="spacingAndGlyphs">B</text>
<text x="994.5" y="667.4" font-size="38" fill="#000" textLength="16.8" lengthAdjust="spacingAndGlyphs">1</text>
<text x="959.1" y="499.6" font-size="51.5" fill="#000" textLength="31.7" lengthAdjust="spacingAndGlyphs">B</text>
<text x="991.8" y="499.6" font-size="38" fill="#000" textLength="20.9" lengthAdjust="spacingAndGlyphs">2</text>
<text x="959.1" y="375.7" font-size="51.5" fill="#000" textLength="31.7" lengthAdjust="spacingAndGlyphs">B</text>
<text x="993.0" y="375.7" font-size="38" fill="#000" textLength="18.8" lengthAdjust="spacingAndGlyphs">3</text>
<text x="1082.6" y="605.6" font-size="51.5" fill="#000" textLength="36.4" lengthAdjust="spacingAndGlyphs">C</text>
<text x="1119.1" y="605.6" font-size="38" fill="#000" textLength="18.7" lengthAdjust="spacingAndGlyphs">1</text>
<text x="1082.6" y="437.7" font-size="51.5" fill="#000" textLength="36.4" lengthAdjust="spacingAndGlyphs">C</text>
<text x="1119.3" y="437.7" font-size="38" fill="#000" textLength="19.5" lengthAdjust="spacingAndGlyphs">2</text>
<text x="1082.6" y="313.2" font-size="51.5" fill="#000" textLength="36.4" lengthAdjust="spacingAndGlyphs">C</text>
<text x="1119.1" y="313.2" font-size="38" fill="#000" textLength="18.8" lengthAdjust="spacingAndGlyphs">3</text>
<text x="1764.8" y="627.6" font-size="51.5" fill="#000" textLength="36.9" lengthAdjust="spacingAndGlyphs">D</text>
<text x="1803.6" y="627.6" font-size="38" fill="#000" textLength="18.5" lengthAdjust="spacingAndGlyphs">1</text>
<text x="1764.8" y="395.4" font-size="51.5" fill="#000" textLength="36.9" lengthAdjust="spacingAndGlyphs">D</text>
<text x="1803.7" y="395.4" font-size="38" fill="#000" textLength="19.5" lengthAdjust="spacingAndGlyphs">2</text>
<text x="1764.8" y="273.7" font-size="51.5" fill="#000" textLength="36.9" lengthAdjust="spacingAndGlyphs">D</text>
<text x="1802.8" y="273.7" font-size="38" fill="#000" textLength="18.9" lengthAdjust="spacingAndGlyphs">3</text>
</svg></body></html>
